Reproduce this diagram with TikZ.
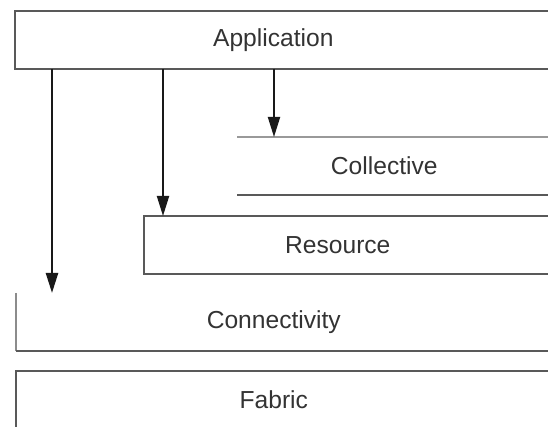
\documentclass[tikz,border=0pt]{standalone}
\usepackage{fontspec}
\setmainfont{Liberation Sans}
\usepackage{xcolor}
\usepackage{tikz}
\usetikzlibrary{arrows.meta}

\tikzset{
  layer/.style={anchor=north west,inner sep=0pt,outer sep=0pt,minimum height=58*0.03cm},
  lbl/.style={font=\fontsize{21}{25}\selectfont,text=black!80,xshift=-7pt},
  rim/.style={draw=black!65,line width=1pt},
  call/.style={-{Triangle[length=0.6cm,width=0.36cm]},line width=1.6pt,black!90}
}

\begin{document}
\begin{tikzpicture}[x=0.03cm,y=-0.03cm]
\useasboundingbox (0,0) rectangle (548,427);
% layers
\node[layer,minimum width=533*0.03cm,label={[lbl]center:Application}] (app) at (15,11) {};
\node[layer,minimum width=311*0.03cm,label={[lbl]center:Collective}] (coll) at (237,137) {};
\node[layer,minimum width=404*0.03cm,label={[lbl]center:Resource}] (res) at (144,216) {};
\node[layer,minimum width=532*0.03cm,label={[lbl]center:Connectivity}] (conn) at (16,293) {};
\node[layer,minimum width=532*0.03cm,minimum height=56*0.03cm,label={[lbl,yshift=-1pt]center:Fabric}] (fab) at (16,371) {};
\draw[rim] (app.north east) -- (app.north west) -- (app.south west) -- (app.south east);
\draw[rim,black!40] (coll.north west) -- (coll.north east);
\draw[rim] (coll.south west) -- (coll.south east);
\draw[rim] (res.north east) -- (res.north west) -- (res.south west) -- (res.south east);
\draw[rim,black!45] (conn.north west) -- (conn.south west);
\draw[rim] (conn.south west) -- (conn.south east);
\draw[rim] (fab.north east) -- (fab.north west) -- (fab.south west);
% calls from the application
\coordinate (c1) at (52,0);
\coordinate (c2) at (163,0);
\coordinate (c3) at (274,0);
\draw[call,line width=2pt] (app.south -| c1) -- (conn.north -| c1);
\draw[call] (app.south -| c2) -- (res.north -| c2);
\draw[call] (app.south -| c3) -- (coll.north -| c3);
\end{tikzpicture}
\end{document}
